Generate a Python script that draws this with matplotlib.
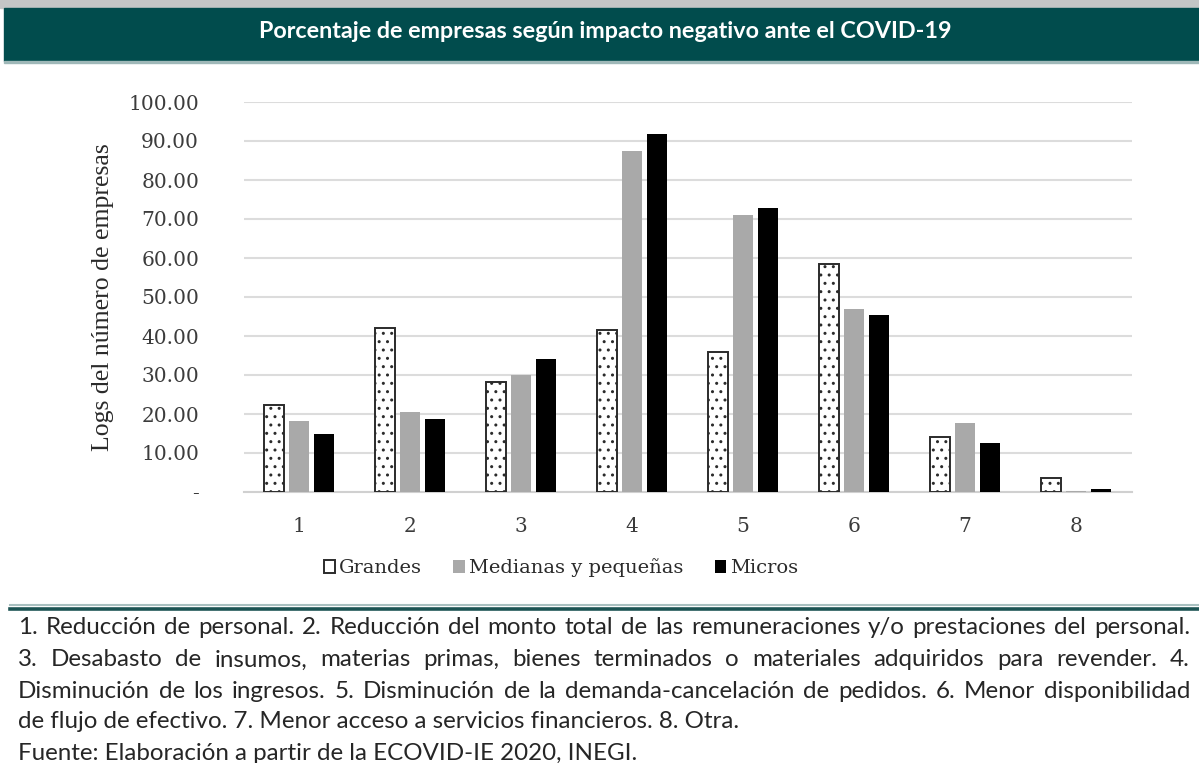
import numpy as np
import matplotlib
matplotlib.use('Agg')
from matplotlib import pyplot as plt
from matplotlib.patches import Rectangle, Patch
from matplotlib.lines import Line2D
from matplotlib.font_manager import FontProperties

# datos
cats = ['1', '2', '3', '4', '5', '6', '7', '8']
grandes = [22.2, 42.0, 28.3, 41.5, 36.0, 58.5, 14.2, 3.5]
medianas = [18.2, 20.6, 29.9, 87.4, 71.1, 46.8, 17.6, 0.25]
micros = [15.0, 18.6, 34.0, 91.8, 72.9, 45.5, 12.5, 0.85]
series = ['Grandes', 'Medianas y pequeñas', 'Micros']
yticks = [0, 10, 20, 30, 40, 50, 60, 70, 80, 90, 100]
ylabels = ['-'] + ['%.2f' % v for v in yticks[1:]]

titulo = 'Porcentaje de empresas según impacto negativo ante el COVID-19'
ylab = 'Logs del número de empresas'
nota = ['1. Reducción de personal. 2. Reducción del monto total de las remuneraciones y/o prestaciones del personal.',
        '3. Desabasto de insumos, materias primas, bienes terminados o materiales adquiridos para revender. 4.',
        'Disminución de los ingresos. 5. Disminución de la demanda-cancelación de pedidos. 6. Menor disponibilidad',
        'de flujo de efectivo. 7. Menor acceso a servicios financieros. 8. Otra.',
        'Fuente: Elaboración a partir de la ECOVID-IE 2020, INEGI.']

W, H = 1199, 763
fig = plt.figure(figsize=(W / 100, H / 100), dpi=100)
teal = '#014c4d'
plt.rcParams['hatch.linewidth'] = 1.0

def px(x, y):
    return x / W, 1 - y / H

# franja superior y barra del titulo
fig.patches.append(Rectangle(px(0, 8), 1, 8 / H, transform=fig.transFigure, color='#c3c6c6', zorder=0))
fig.patches.append(Rectangle(px(4, 61), 1, 53 / H, transform=fig.transFigure, color=teal, zorder=1))
fig.patches.append(Rectangle(px(4, 63), 1, 2 / H, transform=fig.transFigure, color='#9fb8b8', zorder=1))
fig.text(*px(605, 31), titulo, color='white', fontsize=16.8, fontweight='bold',
         family='Lato', ha='center', va='center')

# grafica de barras
ax = fig.add_axes([243.5 / W, 1 - 492 / H, 888 / W, 390 / H])
x = np.arange(len(cats))
bw, step = 0.18, 0.225
ax.bar(x - step, grandes, bw, facecolor='white', edgecolor='#2b2b2b', linewidth=1.4,
       hatch='..', zorder=3)
ax.bar(x, medianas, bw, color='#a9a9a9', zorder=3)
ax.bar(x + step, micros, bw, color='black', zorder=3)

ax.set_xlim(-0.5, len(cats) - 0.5)
ax.set_ylim(0, 100)
ax.set_yticks(yticks)
ax.set_yticklabels(ylabels)
ax.set_xticks(x)
ax.set_xticklabels(cats)
ax.grid(axis='y', color='#dcdcdc', linewidth=1.5, zorder=0)
for s in ['top', 'right', 'left']:
    ax.spines[s].set_visible(False)
ax.spines['bottom'].set_color('#d0d0d0')
ax.spines['bottom'].set_linewidth(1.5)
ax.tick_params(length=0)
ax.tick_params(axis='y', pad=32, labelsize=14.5, labelcolor='#3c3c3c')
ax.tick_params(axis='x', pad=18, labelsize=14.5, labelcolor='#3c3c3c')
for t in ax.get_xticklabels() + ax.get_yticklabels():
    t.set_family('DejaVu Serif')

fig.text(*px(103, 297), ylab, rotation=90, family='Liberation Serif', fontsize=18.5,
         color='#2a2a2a', ha='center', va='center')

handles = [Patch(facecolor='white', edgecolor='#2b2b2b', linewidth=1.4),
           Patch(facecolor='#a9a9a9'), Patch(facecolor='black')]
fig.legend(handles, series, loc='center', bbox_to_anchor=px(561, 568), ncol=3, frameon=False,
           prop=FontProperties(family='DejaVu Serif', size=14), handlelength=0.6, handleheight=0.6,
           handletextpad=0.2, columnspacing=1.6, labelcolor='#2a2a2a')

# linea separadora
fig.lines.append(Line2D([10 / W, 1], [1 - 605 / H] * 2, transform=fig.transFigure, color='#a8c0c0', lw=1.5))
fig.lines.append(Line2D([10 / W, 1], [1 - 608.5 / H] * 2, transform=fig.transFigure, color='#1d5454', lw=2.6))

# nota al pie justificada
fig.canvas.draw()
r = fig.canvas.get_renderer()

def ancho(s, fp):
    t = fig.text(0, 0, s, fontproperties=fp)
    w = t.get_window_extent(r).width
    t.remove()
    return w

x0, x1 = 18, 1190
fp = FontProperties(family='Lato', size=16)
fp.set_size(16 * (x1 - x0) * 0.985 / ancho(nota[0], fp))

ys = [628, 660, 691, 722, 753]
for i, linea in enumerate(nota):
    y = ys[i]
    if i < 3:
        palabras = linea.split(' ')
        ws = [ancho(p, fp) for p in palabras]
        gap = (x1 - x0 - sum(ws)) / (len(palabras) - 1)
        xx = x0
        for p, w in zip(palabras, ws):
            fig.text(*px(xx, y), p, fontproperties=fp, color='#262626', va='center', ha='left')
            xx += w + gap
    else:
        fig.text(*px(x0, y), linea, fontproperties=fp, color='#262626', va='center', ha='left')

fig.savefig('out.png', dpi=100)
